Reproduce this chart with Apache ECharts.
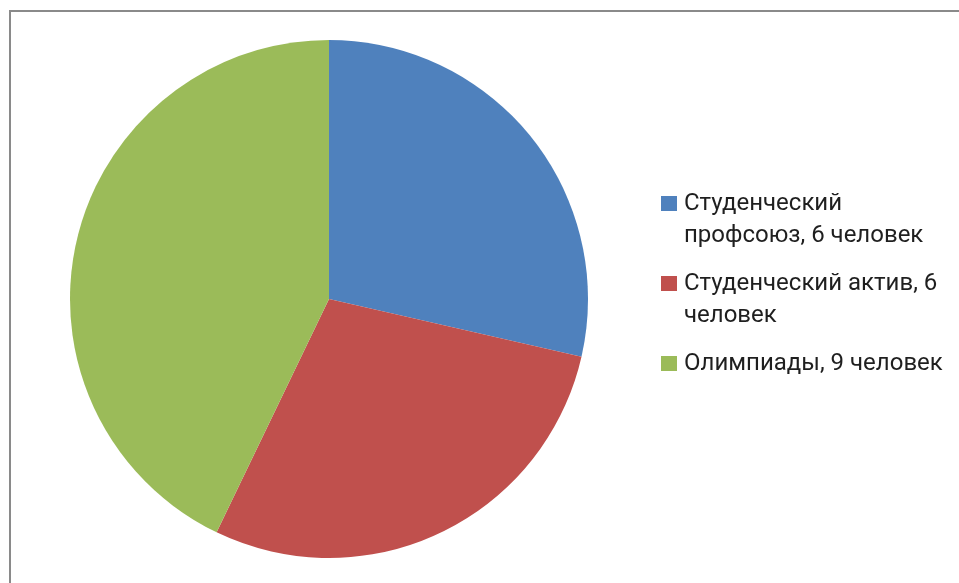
<!DOCTYPE html>
<html>
<head>
<meta charset="utf-8">
<script src="https://cdn.jsdelivr.net/npm/echarts@6/dist/echarts.min.js"></script>
<style>
html,body{margin:0;padding:0;background:#fff;}
#c{width:959px;height:583px;}
</style>
</head>
<body>
<div id="c"></div>
<script>
const categories = ["Студенческий профсоюз, 6 человек", "Студенческий актив, 6 человек", "Олимпиады, 9 человек"];
const values = [6, 6, 9];
const colors = ["#4F81BD", "#C0504D", "#9BBB59"];

const FONT_SIZE = 24;
const LINE_H = 32;
const FONT_FAMILY = 'Roboto';
const MAX_W = 262;

const ctx = document.createElement('canvas').getContext('2d');
ctx.font = FONT_SIZE + 'px "' + FONT_FAMILY + '"';
function wrap(text) {
  const words = text.split(' ');
  const lines = [];
  let cur = '';
  words.forEach(w => {
    const t = cur ? cur + ' ' + w : w;
    if (cur && ctx.measureText(t).width > MAX_W) { lines.push(cur); cur = w; }
    else cur = t;
  });
  if (cur) lines.push(cur);
  return lines;
}
// Blank lines are added so each entry's first line sits level with its marker
// and every entry has the same block height.
const wrappedAll = categories.map(wrap);
const maxK = Math.max(...wrappedAll.map(l => l.length));
const legendText = {};
categories.forEach((n, i) => {
  const lines = wrappedAll[i];
  const above = new Array(maxK - 1).fill(' ');
  const below = new Array(maxK - lines.length).fill(' ');
  legendText[n] = above.concat(lines, below).join('\n');
});

const chart = echarts.init(document.getElementById('c'));
chart.setOption({
  animation: false,
  backgroundColor: '#ffffff',
  color: colors,
  graphic: [{
    type: 'rect',
    shape: {x: 10, y: 11, width: 1200, height: 1200},
    style: {fill: 'none', stroke: '#8a8a8a', lineWidth: 2},
    silent: true
  }],
  legend: {
    orient: 'vertical',
    left: 661,
    top: 155.5,
    padding: 0,
    icon: 'rect',
    itemWidth: 16,
    itemHeight: 15,
    itemGap: -16,
    textStyle: {
      fontFamily: FONT_FAMILY,
      fontSize: FONT_SIZE,
      color: '#1f1f1f',
      lineHeight: LINE_H,
      padding: [0, 0, 0, 2]
    },
    formatter: name => legendText[name],
    data: categories
  },
  series: [{
    type: 'pie',
    center: [329, 299],
    radius: 259,
    startAngle: 90,
    clockwise: true,
    label: {show: false},
    labelLine: {show: false},
    emphasis: {disabled: true},
    itemStyle: {borderWidth: 0},
    data: categories.map((n, i) => ({name: n, value: values[i]}))
  }]
});
</script>
</body>
</html>
